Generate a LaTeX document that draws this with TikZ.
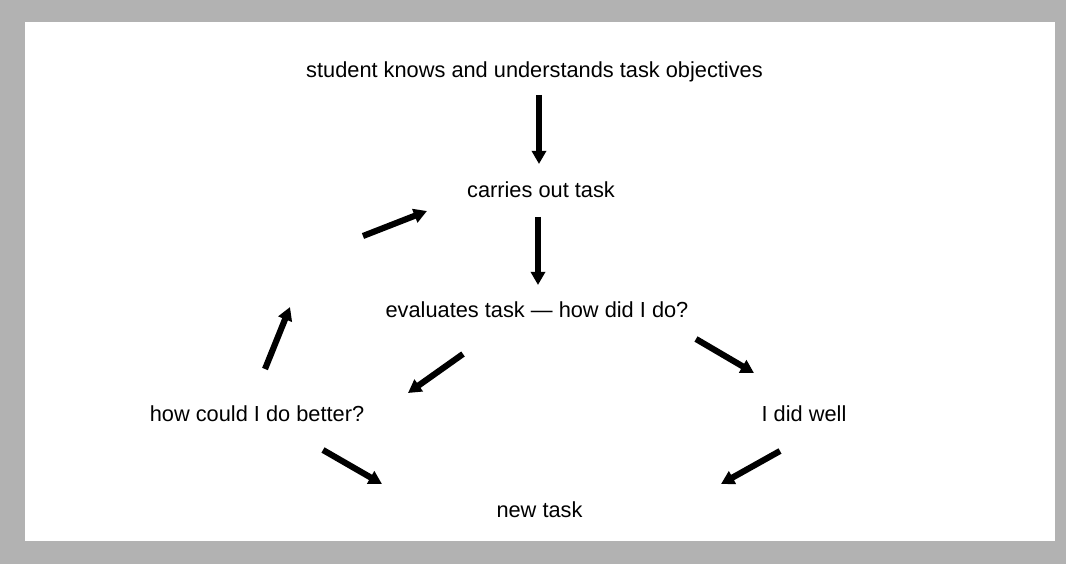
\documentclass[tikz,border=0pt]{standalone}
\usepackage{fontspec}
\setmainfont{Liberation Sans}
\usetikzlibrary{arrows.meta}
\definecolor{framegray}{gray}{0.7}

\begin{document}
\begin{tikzpicture}[x=0.02cm, y=-0.02cm,
		every node/.style={font=\fontsize{12.4}{15}\selectfont, anchor=base, inner sep=2pt},
		flow/.style={line width=3.5pt, -{Triangle[length=7.5pt,width=8pt]}}]
	\fill[framegray] (0,0) rectangle (1066,564);
	\fill[white] (25,22) rectangle (1055,541);
	\useasboundingbox (0,0) rectangle (1066,564);

	\node (goal) at (534.5,78) {student knows and understands task objectives};
	\node (carry) at (541,198) {carries out task};
	\node (evaluate) at (537,318) {evaluates task — how did I do?};
	\node (better) at (257,422) {how could I do better?};
	\node (well) at (804,422) {I did well};
	\node (newtask) at (539.5,518) {new task};

	\coordinate (goal-out) at (539,95);   \coordinate (carry-in) at (539,164);
	\coordinate (carry-out) at (538,217); \coordinate (eval-in) at (538,285);
	\coordinate (eval-l) at (463,354);    \coordinate (better-in) at (408,393);
	\coordinate (eval-r) at (696,339);    \coordinate (well-in) at (754,373);
	\coordinate (better-up) at (265,369); \coordinate (up-tip) at (290,307);
	\coordinate (retry) at (363,236);     \coordinate (retry-tip) at (427,211);
	\coordinate (better-out) at (323,450); \coordinate (new-l) at (382,484);
	\coordinate (well-out) at (780,451);  \coordinate (new-r) at (721,484);

	\draw[flow] (goal-out) -- (carry-in);
	\draw[flow] (carry-out) -- (eval-in);
	\draw[flow] (eval-l) -- (better-in);
	\draw[flow] (eval-r) -- (well-in);
	\draw[flow] (better-up) -- (up-tip);
	\draw[flow] (retry) -- (retry-tip);
	\draw[flow] (better-out) -- (new-l);
	\draw[flow] (well-out) -- (new-r);
\end{tikzpicture}
\end{document}
